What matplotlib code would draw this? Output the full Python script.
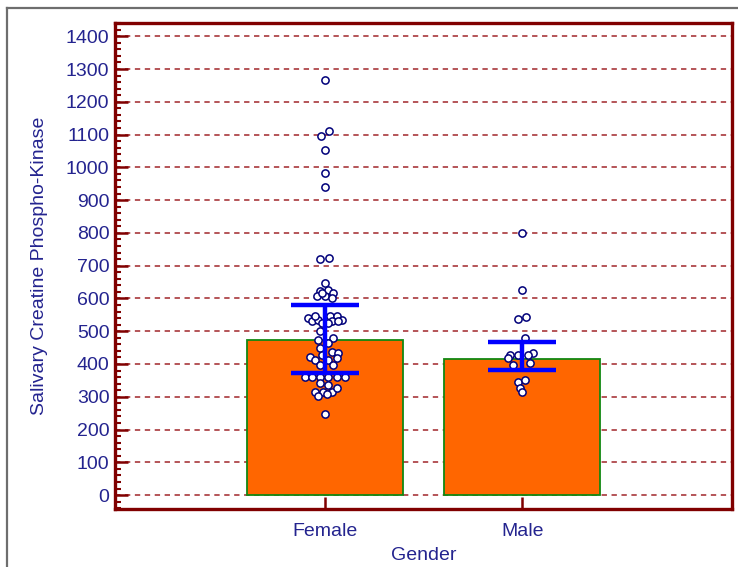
import matplotlib.pyplot as plt
from matplotlib.lines import Line2D
from matplotlib.ticker import MultipleLocator

plt.rcParams['font.family'] = ['Liberation Sans Narrow', 'Liberation Sans', 'DejaVu Sans']

groups = ["Female", "Male"]
bar_values = [474, 416]
err_low = [373, 383]
err_high = [580, 468]

female_values = [1266, 1096, 1111, 1054, 984, 941, 720, 723,
                 647, 622, 625, 616, 607, 607, 601, 616,
                 540, 531, 535, 547, 547, 535, 525, 531, 547, 531, 525,
                 501, 474, 480, 465,
                 449, 437, 434, 422, 413, 413, 419, 398, 398, 428,
                 361, 361, 361, 361, 361, 361,
                 343, 337, 316, 313, 316, 328, 301, 307, 246]
female_jitter = [0.0, -0.02, 0.02, 0.0, 0.0, 0.0, -0.025, 0.02,
                 0.0, -0.025, 0.015, 0.04, -0.04, 0.0, 0.035, -0.015,
                 -0.085, -0.065, -0.035, 0.025, 0.06, 0.085, -0.015, 0.035, -0.05, 0.065, 0.015,
                 -0.025, -0.035, 0.04, 0.015,
                 -0.025, 0.035, 0.065, -0.075, -0.05, 0.015, 0.06, -0.025, 0.04, -0.015,
                 -0.1, -0.065, -0.025, 0.015, 0.06, 0.1,
                 -0.025, 0.015, -0.05, -0.01, 0.035, 0.06, -0.035, 0.01, 0.0]

male_values = [799, 626, 537, 544, 480, 428, 428, 434, 428, 398, 404,
               346, 352, 328, 313, 419]
male_jitter = [0.0, 0.0, -0.02, 0.02, 0.015, -0.06, -0.02, 0.055, 0.03, -0.045, 0.04,
               -0.02, 0.015, -0.01, 0.0, -0.07]

dark_red = "#800000"
text_col = "#24248f"

fig = plt.figure(figsize=(7.38, 5.67), dpi=100)
ax = fig.add_axes([115 / 738, 1 - 509 / 567, 617 / 738, 486.5 / 567])

x = [0, 1]
ax.bar(x, bar_values, width=0.79, color="#ff6600", edgecolor="#118811",
       linewidth=1.3, zorder=2)

ax.plot(female_jitter, female_values, "o", ms=5.2,
        mfc="white", mec="#00007a", mew=1.1, zorder=3, linestyle="none")
ax.plot([1 + j for j in male_jitter], male_values, "o", ms=5.2,
        mfc="white", mec="#00007a", mew=1.1, zorder=3, linestyle="none")

mid = [(lo + hi) / 2 for lo, hi in zip(err_low, err_high)]
half = [(hi - lo) / 2 for lo, hi in zip(err_low, err_high)]
ax.errorbar(x, mid, yerr=half, fmt="none", ecolor="#0000ff", elinewidth=3.2,
            capsize=24.5, capthick=3.2, zorder=4)

ax.set_xlim(-1.066, 2.065)
ax.set_ylim(-42.5, 1442)
ax.yaxis.set_major_locator(MultipleLocator(100))
ax.yaxis.set_minor_locator(MultipleLocator(20))
ax.set_xticks(x)
ax.set_xticklabels(groups)

ax.grid(axis="y", which="major", color="#a0262a", linestyle=(0, (3.5, 3)),
        linewidth=1.1, zorder=1)
ax.set_axisbelow(True)

for s in ax.spines.values():
    s.set_color(dark_red)
    s.set_linewidth(2.4)

ax.tick_params(axis="both", which="major", direction="in", length=9, width=1.8,
               color=dark_red, labelcolor=text_col, labelsize=14)
ax.tick_params(axis="y", which="minor", direction="in", length=4.5, width=1.5,
               color=dark_red)
ax.tick_params(axis="x", pad=10)
ax.tick_params(axis="y", pad=4)

ax.set_ylabel("Salivary Creatine Phospho-Kinase", color=text_col, fontsize=14,
              labelpad=13)
ax.set_xlabel("Gender", color=text_col, fontsize=14, labelpad=5)

# outer frame of the exported chart
fig.add_artist(Line2D([7 / 738, 7 / 738], [0, 1 - 8 / 567], transform=fig.transFigure,
                      color="#6e6e6e", lw=1.6))
fig.add_artist(Line2D([7 / 738, 1], [1 - 8 / 567, 1 - 8 / 567], transform=fig.transFigure,
                      color="#6e6e6e", lw=1.6))

fig.savefig("out.png", dpi=100)
